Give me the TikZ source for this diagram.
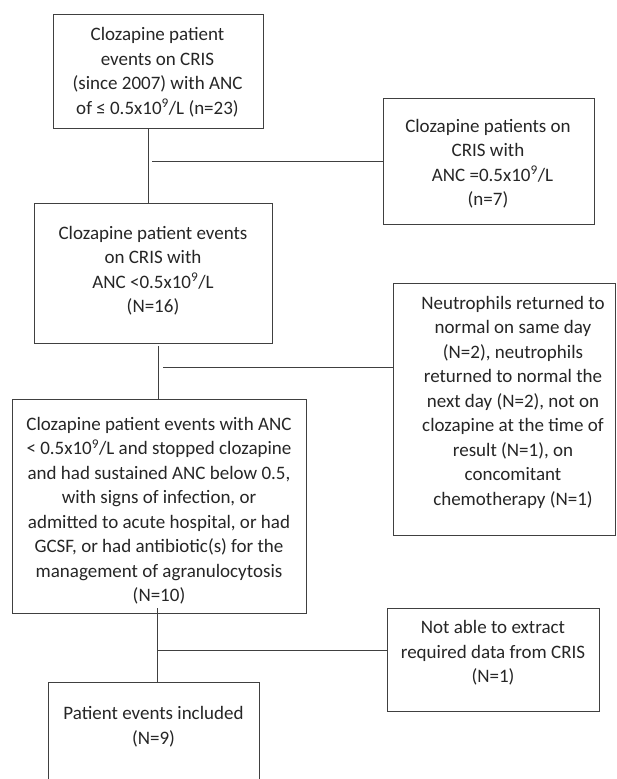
\documentclass[tikz,border=0pt]{standalone}
\usepackage{fontspec}
\setmainfont{Carlito}
\begin{document}
\begin{tikzpicture}[x=1pt,y=-1pt,
  box/.style={draw=black!75, line width=0.9pt, inner sep=0pt, outer sep=0pt},
  txt/.style={font=\fontsize{19}{24.5}\selectfont, align=center, text=black!85, inner sep=0pt},
  conn/.style={draw=black!75, line width=0.9pt}]
\clip (0,0) rectangle (617,779);
\fill[white] (0,0) rectangle (617,779);
% boxes
\node[box, minimum width=210pt, minimum height=114pt] (b1) at (158,71) {};
\node[box, minimum width=211pt, minimum height=126pt] (b2) at (488.5,161) {};
\node[box, minimum width=238pt, minimum height=140pt] (b3) at (153,273) {};
\node[box, minimum width=222pt, minimum height=252pt] (b4) at (504,409) {};
\node[box, minimum width=294pt, minimum height=214pt] (b5) at (159,506) {};
\node[box, minimum width=212pt, minimum height=103pt] (b6) at (493,659.5) {};
\node[box, minimum width=211pt, minimum height=118pt] (b7) at (153.5,741) {};
% texts
\node[txt] (t1) at (157.5,72) {Clozapine patient\\events on CRIS\\(since 2007) with ANC\\of ≤ 0.5x10\textsuperscript{9}/L (n=23)};
\node[txt] (t2) at (488,163.5) {Clozapine patients on\\CRIS with\\\hspace*{9pt}ANC =0.5x10\textsuperscript{9}/L\\(n=7)};
\node[txt] (t3) at (153,270.5) {Clozapine patient events\\on CRIS with\\ANC <0.5x10\textsuperscript{9}/L\\(N=16)};
\node[txt] (t4) at (513,402) {Neutrophils returned to\\normal on same day\\(N=2), neutrophils\\returned to normal the\\next day (N=2), not on\\clozapine at the time of\\result (N=1), on\\concomitant\\chemotherapy (N=1)};
\node[txt] (t5) at (159,510.5) {Clozapine patient events with ANC\\< 0.5x10\textsuperscript{9}/L and stopped clozapine\\and had sustained ANC below 0.5,\\with signs of infection, or\\admitted to acute hospital, or had\\GCSF, or had antibiotic(s) for the\\management of agranulocytosis\\(N=10)};
\node[txt] (t6) at (493,653) {Not able to extract\\required data from CRIS\\(N=1)};
\node[txt] (t7) at (153.5,726.5) {Patient events included\\(N=9)};
% connectors
\coordinate (v1) at (148,0);
\draw[conn] (b1.south -| v1) -- (b3.north -| v1);
\coordinate (j1) at (152,161);
\draw[conn] (j1) -- (j1 -| b2.west);
\coordinate (v2) at (158,346);
\draw[conn] (v2) -- (v2 |- b5.north);
\coordinate (j2) at (163,367);
\draw[conn] (j2) -- (j2 -| b4.west);
\coordinate (v3) at (157,608);
\draw[conn] (v3) -- (v3 |- b7.north);
\coordinate (j3) at (157,650);
\draw[conn] (j3) -- (j3 -| b6.west);
\end{tikzpicture}
\end{document}
